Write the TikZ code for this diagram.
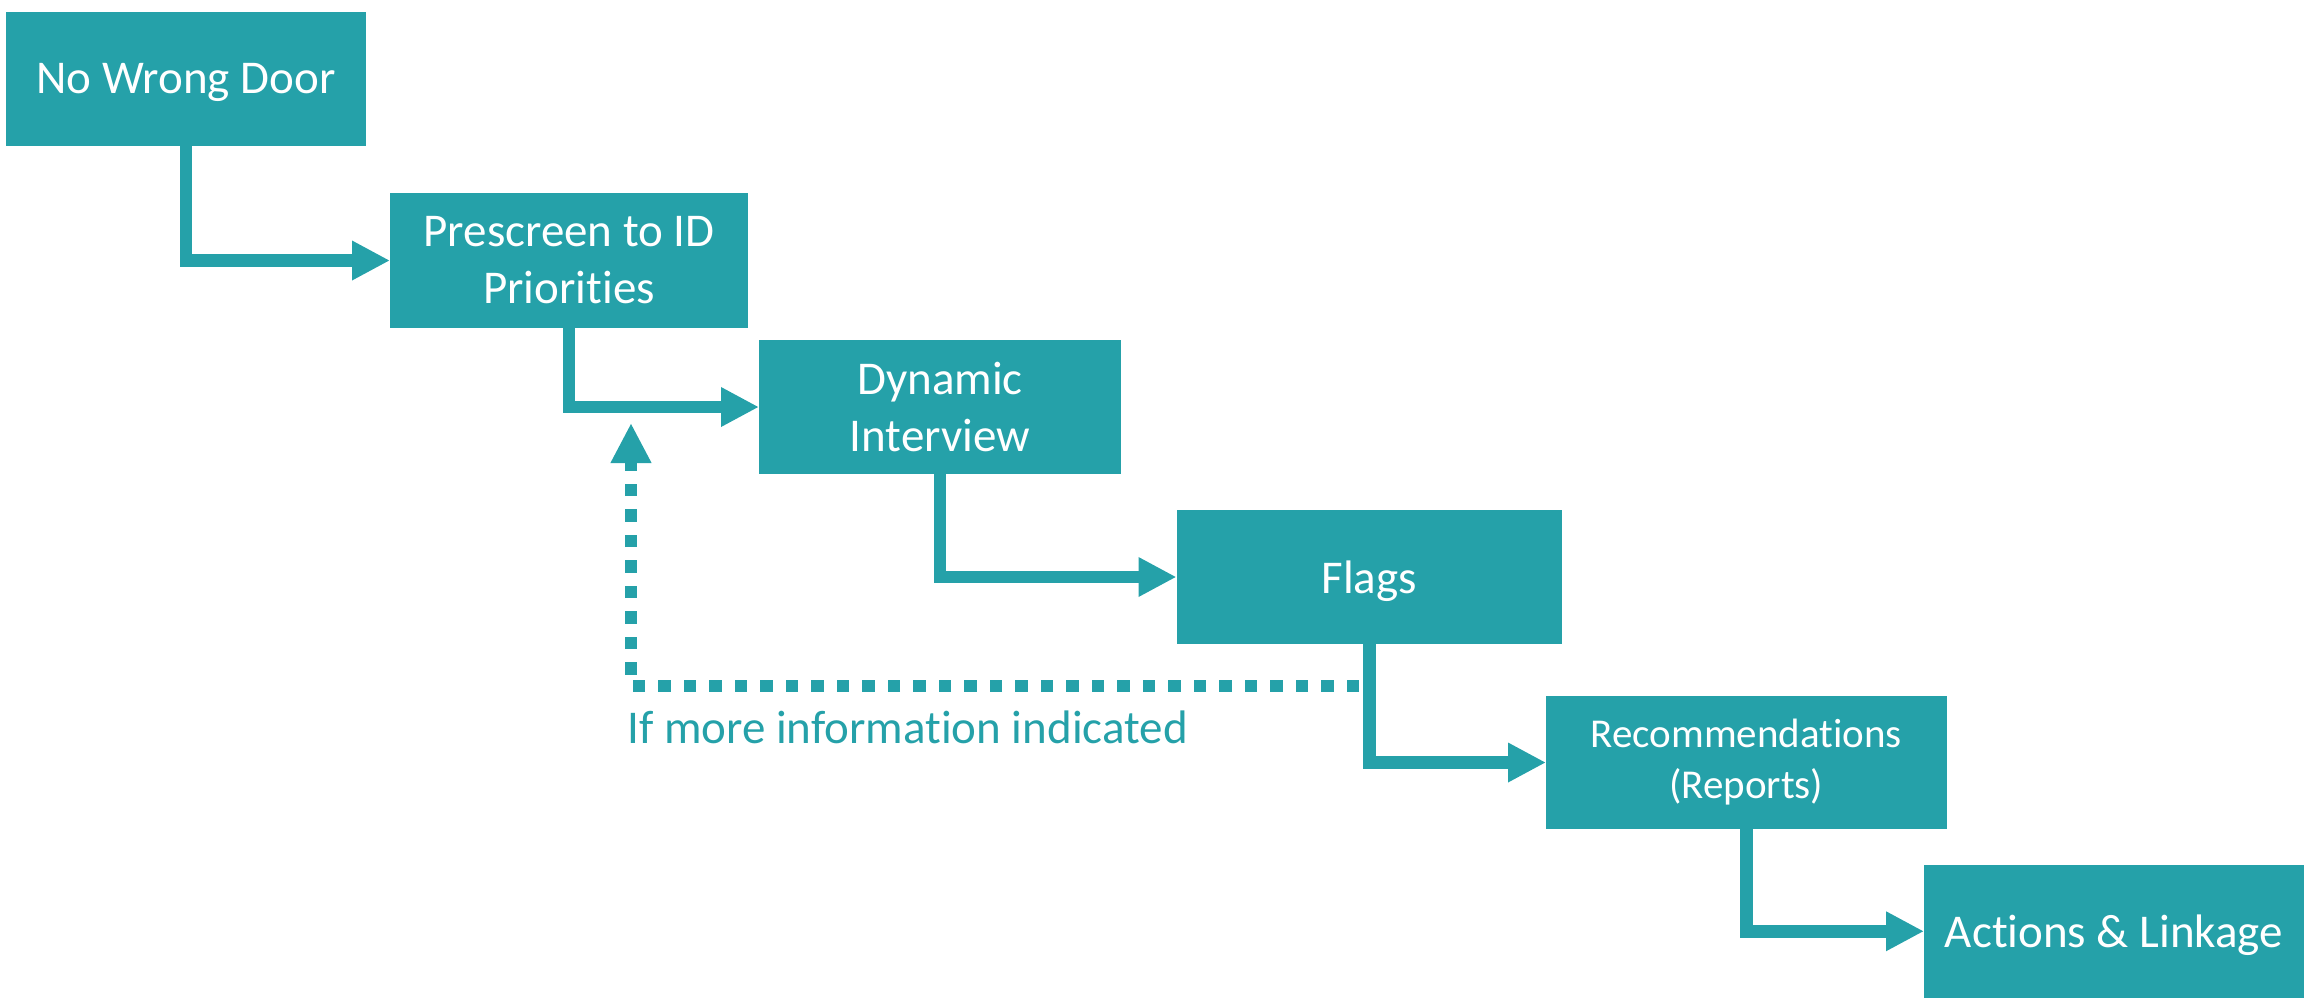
\documentclass[tikz,border=0pt]{standalone}
\usepackage{fontspec}
\setmainfont{Carlito}[RawFeature={-liga}]
\usetikzlibrary{arrows.meta}
\definecolor{teal1}{RGB}{37,161,169}
\begin{document}
\begin{tikzpicture}[x=1pt,y=-1pt,
  stepbox/.style={fill=teal1, draw=none, inner sep=0pt, outer sep=0pt, text=white, align=center, font=\fontsize{47}{57}\selectfont},
  oneline/.style={text depth=0pt},
  flow/.style={draw=teal1, line width=12.5pt, line join=miter, -{Triangle[length=38pt,width=37pt]}},
  loopback/.style={draw=teal1, line width=12.5pt, dash pattern=on 12.5pt off 13pt, -{Triangle[length=40pt,width=38pt]}},
]
\useasboundingbox (0,0) rectangle (2306,1002);
\node[stepbox, oneline, minimum width=360pt, minimum height=134pt] (door) at (186,78.5) {No Wrong Door};
\node[stepbox, minimum width=358pt, minimum height=135pt] (pre) at (569,260.5) {Prescreen to ID\\Priorities};
\node[stepbox, minimum width=362pt, minimum height=134pt] (dyn) at (940,407) {Dynamic\\Interview};
\node[stepbox, oneline, minimum width=385.5pt, minimum height=134pt] (flags) at (1369.25,577) {Flags};
\node[stepbox, minimum width=400.5pt, minimum height=133pt, font=\fontsize{41}{51}\selectfont] (rec) at (1746.25,762.5) {Recommendations\\(Reports)};
\node[stepbox, oneline, minimum width=380pt, minimum height=133.5pt] (act) at (2114,931.25) {Actions \& Linkage};

\draw[flow] (door.south) |- (pre.west);
\draw[flow] (pre.south) |- (dyn.west);
\draw[flow] (dyn.south) |- (flags.west);
\draw[flow] (flags.south) |- (rec.west);
\draw[flow] (rec.south) |- (act.west);

\coordinate (loopstart) at (1359,686);
\coordinate (looptip) at (631,423);
\draw[loopback] (loopstart) -| (looptip);
\node[anchor=base west, inner sep=0pt, text=teal1, font=\fontsize{47}{57}\selectfont] (note) at (627,743) {If more information indicated};
\end{tikzpicture}
\end{document}
